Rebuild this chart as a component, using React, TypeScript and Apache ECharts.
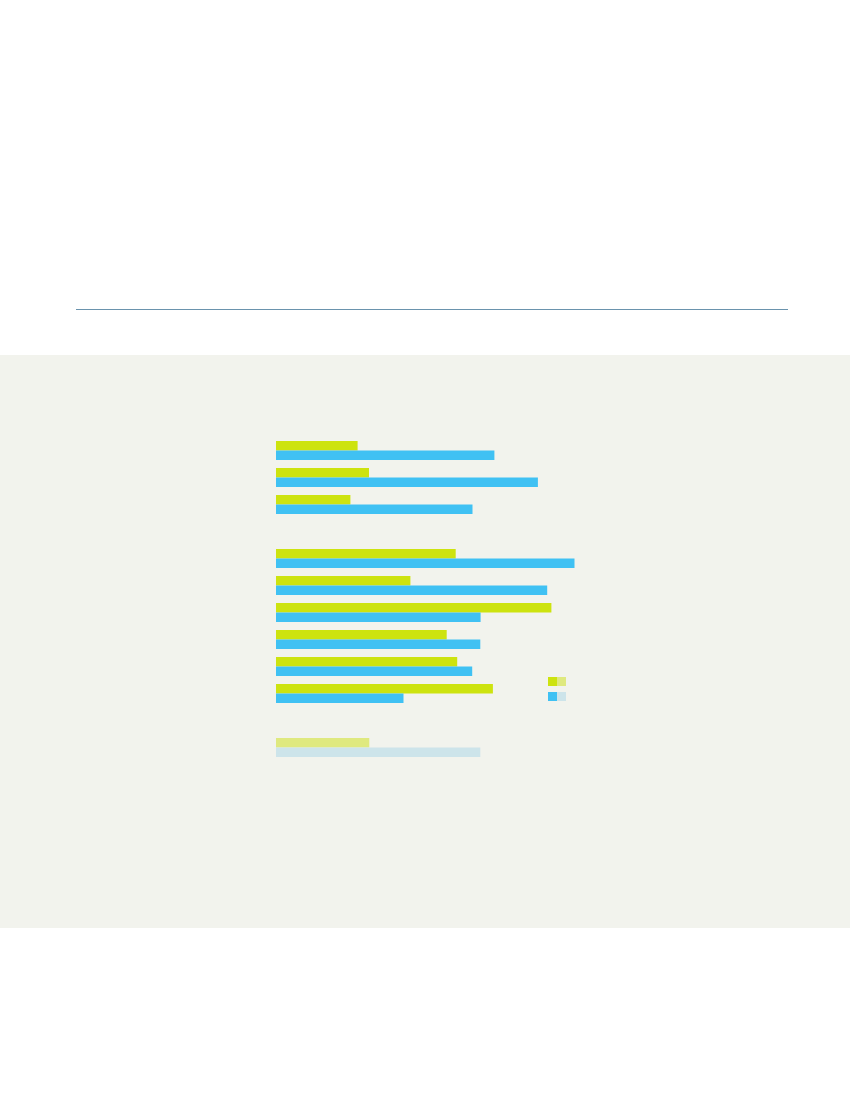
import React, { useEffect, useRef } from 'react';
import * as echarts from 'echarts';

// 12 slots, the two empty ones make the gaps between the groups
const categories = ['r1', 'r2', 'r3', '', 'r4', 'r5', 'r6', 'r7', 'r8', 'r9', ' ', 'r10'];
const greenValues = [27.2, 31, 24.8, null, 59.9, 44.8, 91.8, 56.9, 60.4, 72.3, null, 31.1];
const blueValues = [72.8, 87.3, 65.5, null, 99.5, 90.4, 68.2, 68.1, 65.4, 42.5, null, 68.1];
// the last row is drawn in the pale colours
const paleIndex = 11;

const GREEN = '#cde30f';
const GREEN_PALE = '#dfe97f';
const BLUE = '#40c1f3';
const BLUE_PALE = '#cde4ea';

const App: React.FC = () => {
  const chartRef = useRef<HTMLDivElement>(null);

  useEffect(() => {
    document.body.style.margin = '0';
    if (!chartRef.current) return;
    const chart = echarts.init(chartRef.current, null, { renderer: 'svg' });

    const toData = (values: (number | null)[], pale: string) =>
      values.map((v, i) =>
        i === paleIndex ? { value: v, itemStyle: { color: pale } } : v
      );

    chart.setOption({
      animation: false,
      backgroundColor: '#f2f3ed',
      grid: { left: 276, top: 82, width: 300, height: 324 },
      xAxis: {
        type: 'value',
        min: 0,
        max: 100,
        show: false
      },
      yAxis: {
        type: 'category',
        data: categories,
        inverse: true,
        show: false
      },
      series: [
        {
          name: 'green',
          type: 'bar',
          barWidth: 9.5,
          barGap: '0%',
          itemStyle: { color: GREEN },
          data: toData(greenValues, GREEN_PALE)
        },
        {
          name: 'blue',
          type: 'bar',
          barWidth: 9.5,
          barGap: '0%',
          itemStyle: { color: BLUE },
          data: toData(blueValues, BLUE_PALE)
        }
      ],
      graphic: [
        { type: 'rect', left: 548, top: 322, shape: { width: 9, height: 9 }, style: { fill: GREEN } },
        { type: 'rect', left: 557, top: 322, shape: { width: 9, height: 9 }, style: { fill: GREEN_PALE } },
        { type: 'rect', left: 548, top: 337, shape: { width: 9, height: 9 }, style: { fill: BLUE } },
        { type: 'rect', left: 557, top: 337, shape: { width: 9, height: 9 }, style: { fill: BLUE_PALE } }
      ]
    });

    return () => {
      chart.dispose();
    };
  }, []);

  return (
    <div style={{ position: 'relative', width: 850, height: 1100, background: '#ffffff' }}>
      <div
        style={{
          position: 'absolute',
          left: 76,
          top: 309,
          width: 712,
          height: 1,
          background: '#6a93ad'
        }}
      />
      <div
        ref={chartRef}
        style={{ position: 'absolute', left: 0, top: 355, width: 850, height: 573 }}
      />
    </div>
  );
};

export default App;
